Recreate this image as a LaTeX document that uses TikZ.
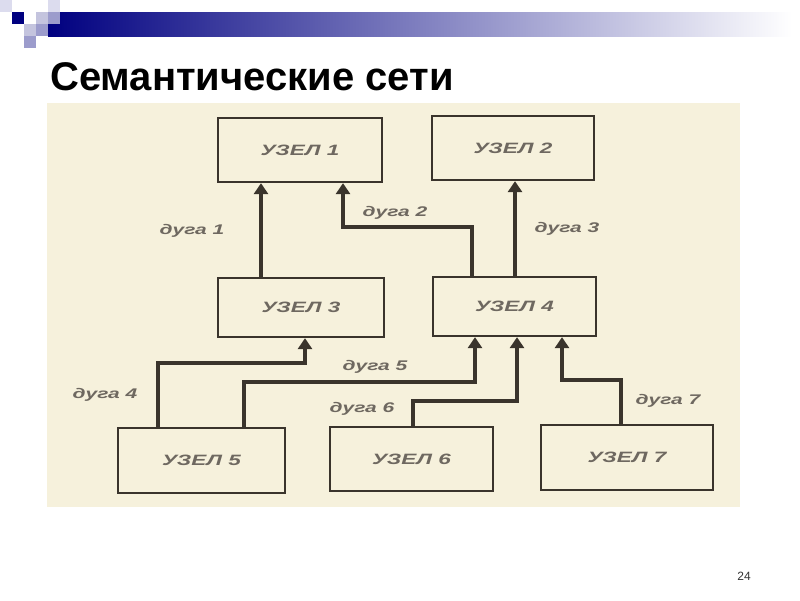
\documentclass[tikz,border=0pt]{standalone}
\usepackage{fontspec}
\usepackage{graphicx}
\setmainfont{Liberation Sans}
\usetikzlibrary{arrows.meta}
\definecolor{navy}{HTML}{000080}
\definecolor{paper}{HTML}{F6F1DC}
\definecolor{ink}{HTML}{3A342C}
\definecolor{txt}{HTML}{6E6860}
\definecolor{sqA}{HTML}{DCDCEE}
\definecolor{sqB}{HTML}{C4C4DE}
\definecolor{sqC}{HTML}{9C9CCC}
\newcommand\widetext[1]{\scalebox{1.5}[1]{#1}}
\tikzset{
  box/.style={draw=ink, line width=2.3pt, inner sep=0pt, text=txt,
    font=\fontsize{15}{16}\selectfont\bfseries\itshape},
  arc/.style={draw=ink, line width=3.2pt, line join=miter,
    -{Triangle[width=14pt,length=11pt]}},
  lbl/.style={text=txt, inner sep=0pt,
    font=\fontsize{14}{15}\selectfont\bfseries\itshape},
}
\begin{document}
\begin{tikzpicture}[x=1pt,y=-1pt]
\useasboundingbox (0,0) rectangle (800,600);
\fill[white] (0,0) rectangle (800,600);
% header bar and squares
\shade[left color=navy, right color=white, middle color=navy!50!white] (48,12) rectangle (792,36);
\fill[sqA] (0,0) rectangle (12,12);
\fill[navy] (12,12) rectangle (24,24);
\fill[sqB] (24,24) rectangle (36,36);
\fill[sqB] (36,12) rectangle (48,24);
\fill[sqC] (36,24) rectangle (48,36);
\fill[sqA] (48,0) rectangle (60,12);
\fill[sqC] (48,12) rectangle (60,24);
\fill[sqC] (24,36) rectangle (36,48);
% title
\node[anchor=base west, inner sep=0pt, font=\fontsize{40}{41}\selectfont\bfseries] (title) at (50,90) {Семантические сети};
% paper
\fill[paper] (47,103) rectangle (740,507);
% nodes
\node[box, minimum width=164pt, minimum height=64pt] (u1) at (300,150) {\widetext{УЗЕЛ 1}};
\node[box, minimum width=162pt, minimum height=64pt] (u2) at (513,148) {\widetext{УЗЕЛ 2}};
\node[box, minimum width=166pt, minimum height=59pt] (u3) at (301,307.5) {\widetext{УЗЕЛ 3}};
\node[box, minimum width=163pt, minimum height=59pt] (u4) at (514.5,306.5) {\widetext{УЗЕЛ 4}};
\node[box, minimum width=167pt, minimum height=65pt] (u5) at (201.5,460.5) {\widetext{УЗЕЛ 5}};
\node[box, minimum width=163pt, minimum height=64pt] (u6) at (411.5,459) {\widetext{УЗЕЛ 6}};
\node[box, minimum width=172pt, minimum height=65pt] (u7) at (627,457.5) {\widetext{УЗЕЛ 7}};
% bend points
\coordinate (c1) at (261,0);
\coordinate (c3) at (515,0);
\coordinate (b2a) at (472,227);
\coordinate (b2b) at (343,227);
\coordinate (b4a) at (158,363);
\coordinate (b4b) at (305,363);
\coordinate (b5a) at (244,382);
\coordinate (b5b) at (475,382);
\coordinate (b6a) at (413,401);
\coordinate (b6b) at (517,401);
\coordinate (b7a) at (621,380);
\coordinate (b7b) at (562,380);
% arcs
\draw[arc] (u3.north -| c1) -- (u1.south -| c1);
\draw[arc] (u4.north -| b2a) -- (b2a) -- (b2b) -- (u1.south -| b2b);
\draw[arc] (u4.north -| c3) -- (u2.south -| c3);
\draw[arc] (u5.north -| b4a) -- (b4a) -- (b4b) -- (u3.south -| b4b);
\draw[arc] (u5.north -| b5a) -- (b5a) -- (b5b) -- (u4.south -| b5b);
\draw[arc] (u6.north -| b6a) -- (b6a) -- (b6b) -- (u4.south -| b6b);
\draw[arc] (u7.north -| b7a) -- (b7a) -- (b7b) -- (u4.south -| b7b);
% labels
\node[lbl] (l1) at (192,231) {\widetext{дуга 1}};
\node[lbl] (l2) at (395,213) {\widetext{дуга 2}};
\node[lbl] (l3) at (567,229) {\widetext{дуга 3}};
\node[lbl] (l4) at (105,395) {\widetext{дуга 4}};
\node[lbl] (l5) at (375,367) {\widetext{дуга 5}};
\node[lbl] (l6) at (362,409) {\widetext{дуга 6}};
\node[lbl] (l7) at (668,401) {\widetext{дуга 7}};
% page number
\node[anchor=base, inner sep=0pt, text=black!80, font=\fontsize{12}{12}\selectfont] (pg) at (744,580) {24};
\end{tikzpicture}
\end{document}
